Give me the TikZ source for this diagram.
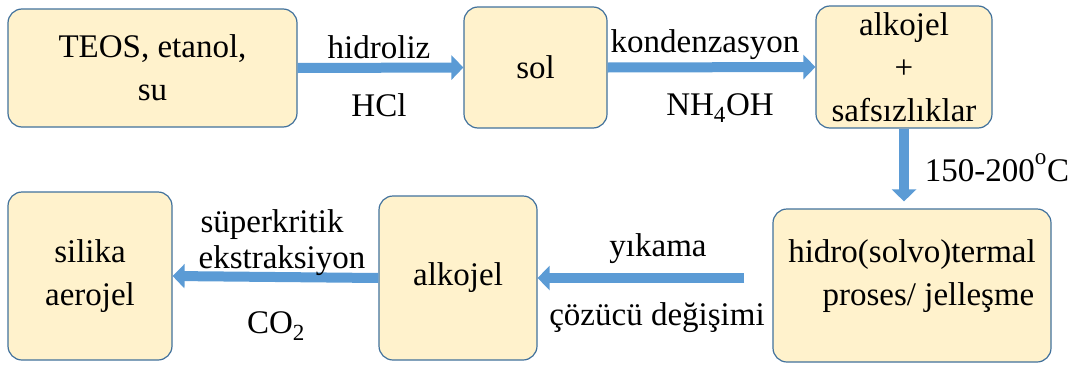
\documentclass[tikz,border=0pt]{standalone}
\usepackage{fontspec}
\setmainfont{Liberation Serif}
\newfontfamily\boxfont{Liberation Serif}
\usetikzlibrary{arrows.meta,calc,positioning}
\definecolor{boxfill}{HTML}{FFF2CC}
\definecolor{boxline}{HTML}{41719C}
\definecolor{flow}{HTML}{5B9BD5}

\begin{document}
\begin{tikzpicture}[x=1pt,y=-1pt,
every node/.style={font=\boxfont\fontsize{33}{43}\selectfont,align=center,inner sep=0pt},
box/.style={draw=boxline,fill=boxfill,line width=1.2pt,rounded corners=14pt},
fat/.style={draw=flow,line width=10pt,-{Triangle[length=12pt,width=24pt]}}]
\useasboundingbox (0,0) rectangle (1068,367);
% boxes
\node[box,minimum width=289pt,minimum height=118pt] (A1) at (152.5,68) {TEOS, etanol,\\su};
\node[box,minimum width=143pt,minimum height=121pt] (A2) at (535.5,67.5) {sol};
\node[box,minimum width=176pt,minimum height=122pt] (A3) at (904,67) {alkojel\\+\\safsızlıklar};
\node[box,minimum width=278pt,minimum height=153pt] (A4) at (912,285.5) {};
\node (A4t) at (912,276) {hidro(solvo)termal\\\hspace*{1em}proses/ jelleşme};
\node[box,minimum width=158pt,minimum height=164pt] (A5) at (458,278) {alkojel};
\node[box,minimum width=164pt,minimum height=168pt] (A6) at (90,276) {silika\\aerojel};
% arrows
\draw[fat] (A1.east) -- (A2.west);
\draw[fat] (A2.east) -- (A3.west);
\draw[fat,shorten >=7pt] (A3.south) -- (A3.south |- A4.north);
\draw[fat,shorten <=28pt] (A4.west |- A5.east) -- (A5.east);
\draw[fat] (A5.west) -- (A6.east);
% labels
\node (L1) at (379,47) {hidroliz};
\node (L2) at (379,105) {HCl};
\node (L3) at (705,45) {kondenzasyon};
\node (L4) at (720,108) {NH\textsubscript{4}OH};
\node (L5) at (997,168) {150-200\raisebox{0.5ex}{\textsuperscript{o}}C};
\node (L6) at (658,249) {yıkama};
\node (L7) at (657,318) {çözücü değişimi};
\node (L8) at (272,225) {süperkritik};
\node (L9) at (282,261) {ekstraksiyon};
\node (L10) at (276,326) {CO\textsubscript{2}};
\end{tikzpicture}
\end{document}
